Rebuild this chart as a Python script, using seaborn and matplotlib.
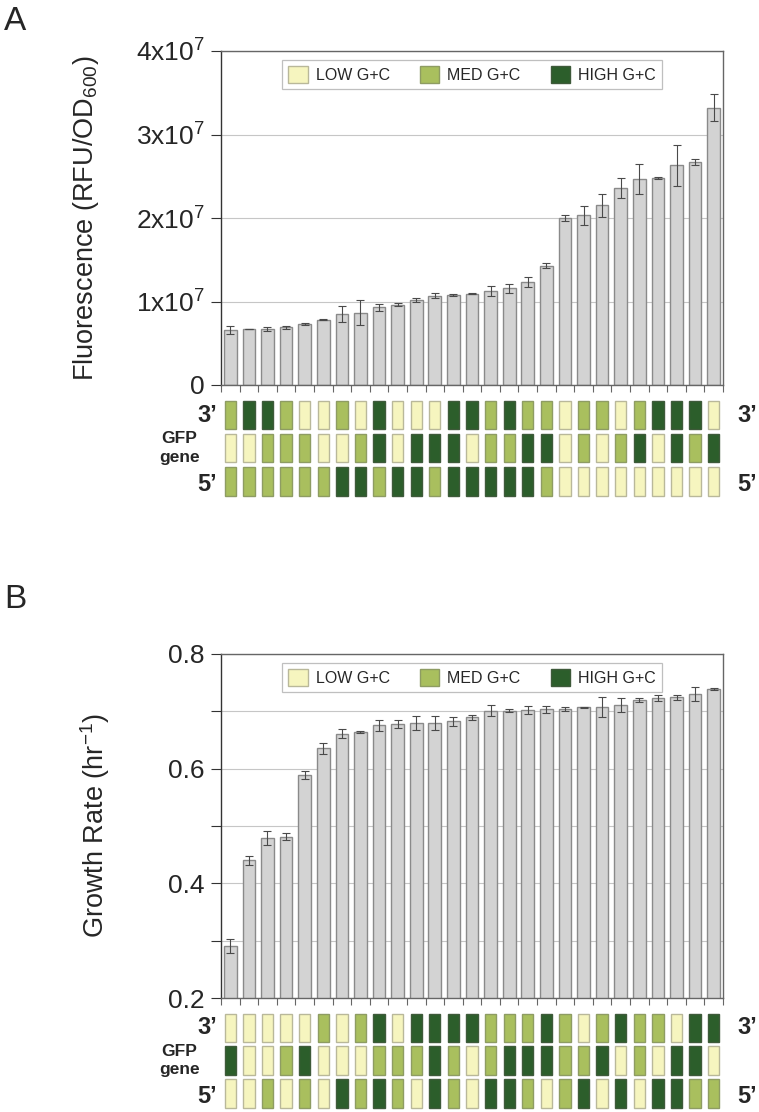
import numpy as np
import pandas as pd
import matplotlib
matplotlib.use("Agg")
import matplotlib.pyplot as plt
from matplotlib.patches import Patch
import seaborn as sns

# ---------------- data ----------------
constructs = [f"C{i+1}" for i in range(27)]

fluor_mean = [6.6, 6.7, 6.7, 6.9, 7.3, 7.8, 8.56, 8.64, 9.32, 9.64, 10.15, 10.7,
              10.8, 10.95, 11.2, 11.6, 12.35, 14.3, 20.0, 20.3, 21.5, 23.6,
              24.65, 24.8, 26.3, 26.7, 33.2]          # x1e6
fluor_err = [0.48, 0.05, 0.2, 0.15, 0.15, 0.05, 0.96, 1.5, 0.4, 0.15, 0.25, 0.3,
             0.1, 0.1, 0.6, 0.55, 0.64, 0.3, 0.3, 1.15, 1.43, 1.15,
             1.83, 0.1, 2.43, 0.38, 1.6]              # x1e6

growth_mean = [0.291, 0.440, 0.479, 0.481, 0.588, 0.635, 0.661, 0.664, 0.675,
               0.678, 0.680, 0.680, 0.682, 0.689, 0.701, 0.701, 0.702, 0.703,
               0.704, 0.707, 0.707, 0.711, 0.719, 0.723, 0.724, 0.730, 0.739]
growth_err = [0.012, 0.008, 0.012, 0.006, 0.007, 0.010, 0.008, 0.002, 0.009,
              0.007, 0.012, 0.012, 0.008, 0.004, 0.009, 0.003, 0.007, 0.006,
              0.004, 0.001, 0.018, 0.012, 0.003, 0.005, 0.004, 0.012, 0.002]

# G+C content of the three gene segments (3' row, middle row, 5' row)
A_3prime = list("MHHMLLMLHLLLHHMHMMLMMLMHHHL")
A_middle = list("LLMMMLLMHLHHHLMMHHLMLMHLHMH")
A_5prime = list("MMMMMMHHMHHMHHHHHMLLLLLLLLL")

B_3prime = list("LLLLLMLMHLHHHHMMMHMLMHMMLHH")
B_middle = list("HLLMHLLLMMMHMLMHHHMMHLMLHHL")
B_5prime = list("LLMLMLHMHMLHMLHHMLMHLHLHHMM")

legend_labels = ["LOW G+C", "MED G+C", "HIGH G+C"]

# ---------------- style ----------------
sns.set_theme(style="white")
plt.rcParams["font.family"] = ["Liberation Sans", "DejaVu Sans"]
plt.rcParams["mathtext.fontset"] = "custom"
plt.rcParams["mathtext.rm"] = "Liberation Sans"
plt.rcParams["mathtext.it"] = "Liberation Sans"

gc_colors = {"L": "#f6f5bf", "M": "#a9bf5e", "H": "#2c5e2b"}
gc_edges = {"L": "#b9b89a", "M": "#8e9c63", "H": "#3e5a3a"}
bar_face = "#d3d3d3"
bar_edge = "#8a8a8a"
spine_col = "#666666"

W, H = 759, 1112
fig = plt.figure(figsize=(W / 100, H / 100), dpi=100)


def frac(x0, y0, x1, y1):
    return [x0 / W, 1 - y1 / H, (x1 - x0) / W, (y1 - y0) / H]


def bar_panel(ax, means, errs, ylim, yticks, yticklabels, ylabel, label_x):
    df = pd.DataFrame({"construct": constructs, "value": means})
    sns.barplot(data=df, x="construct", y="value", order=constructs, ax=ax,
                color=bar_face, edgecolor=bar_edge, linewidth=1.0,
                width=0.68, saturation=1, errorbar=None, zorder=2)
    ax.errorbar(np.arange(len(constructs)), means, yerr=errs, fmt="none",
                ecolor="#4a4a4a", elinewidth=0.8, capsize=3, capthick=0.8,
                zorder=3)
    ax.set_xlim(-0.5, len(constructs) - 0.5)
    ax.set_ylim(*ylim)
    ax.set_yticks(yticks)
    ax.set_yticklabels(yticklabels, fontsize=19)
    ax.yaxis.grid(True, color="#c6c6c6", linewidth=0.8, zorder=0)
    ax.set_axisbelow(True)
    ax.set_xticks(np.arange(-0.5, len(constructs), 1.0))
    ax.set_xticklabels([])
    ax.set_xlabel("")
    ax.tick_params(axis="x", direction="out", length=5, width=0.8,
                   color=spine_col, bottom=True)
    ax.tick_params(axis="y", direction="out", length=7, width=0.8,
                   color="#333333", pad=5, left=True)
    for s in ax.spines.values():
        s.set_color(spine_col)
        s.set_linewidth(1.0)
    ax.spines["left"].set_color("#333333")
    ax.set_ylabel(ylabel, fontsize=19.5)
    ax.yaxis.set_label_coords(label_x, 0.5)
    handles = [Patch(facecolor=gc_colors[k], edgecolor=gc_edges[k], linewidth=1)
               for k in "LMH"]
    leg = ax.legend(handles, legend_labels, loc="upper center",
                    bbox_to_anchor=(0.5, 0.973), ncol=3, fontsize=11.5,
                    frameon=True, fancybox=False, borderaxespad=0,
                    handlelength=1.2, handleheight=1.2, handletextpad=0.5,
                    columnspacing=1.9, borderpad=0.4)
    leg.get_frame().set_edgecolor("#b0b0b0")
    leg.get_frame().set_linewidth(0.9)
    leg.set_zorder(5)


def gc_grid(ax, rows):
    n = len(constructs)
    x = np.arange(n)
    for r, codes in zip([2, 1, 0], rows):
        ax.bar(x, [0.86] * n, bottom=r - 0.43, width=0.61,
               color=[gc_colors[c] for c in codes],
               edgecolor=[gc_edges[c] for c in codes], linewidth=1.0)
    ax.set_xlim(-0.5, n - 0.5)
    ax.set_ylim(-0.5, 2.5)
    ax.axis("off")
    tr = ax.get_yaxis_transform()
    kw = dict(fontsize=17, fontweight="bold", va="center", transform=tr)
    ax.text(-0.008, 2, "3\u2019", ha="right", **kw)
    ax.text(-0.008, -0.1, "5\u2019", ha="right", **kw)
    ax.text(1.028, 2, "3\u2019", ha="left", **kw)
    ax.text(1.028, -0.1, "5\u2019", ha="left", **kw)
    ax.text(-0.083, 1, "GFP\ngene", ha="center", va="center", fontsize=12.5,
            fontweight="bold", linespacing=1.3, transform=tr)


# ---------------- panel A ----------------
axA = fig.add_axes(frac(221, 51, 723, 385))
bar_panel(axA, fluor_mean, fluor_err, (0, 40),
          [0, 10, 20, 30, 40],
          ["0", r"1x10$^{7}$", r"2x10$^{7}$", r"3x10$^{7}$", r"4x10$^{7}$"],
          r"Fluorescence (RFU/OD$_{600}$)", -0.24)
gA = fig.add_axes(frac(221, 398.4, 723, 498))
gc_grid(gA, [A_3prime, A_middle, A_5prime])

# ---------------- panel B ----------------
axB = fig.add_axes(frac(221, 653.7, 723, 998.3))
bticks = [0.2, 0.3, 0.4, 0.5, 0.6, 0.7, 0.8]
blabels = ["0.2", "", "0.4", "", "0.6", "", "0.8"]
bar_panel(axB, growth_mean, growth_err, (0.2, 0.8), bticks, blabels,
          r"Growth Rate (hr$^{-1}$)", -0.218)
gB = fig.add_axes(frac(221, 1011.2, 723, 1110))
gc_grid(gB, [B_3prime, B_middle, B_5prime])

fig.text(4 / W, 1 - 21 / H, "A", fontsize=24, va="center", ha="left")
fig.text(4 / W, 1 - 599 / H, "B", fontsize=24, va="center", ha="left")

fig.savefig("out.png", dpi=100)
